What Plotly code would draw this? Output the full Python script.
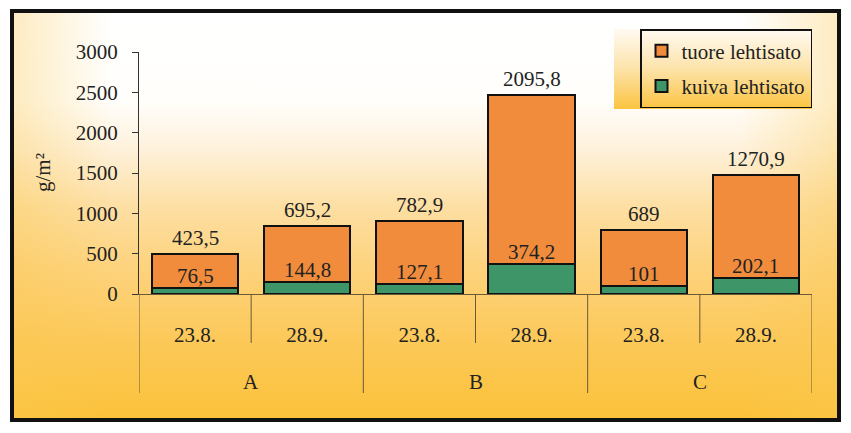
import base64
import plotly.graph_objects as go

# ---- data ----
groups = ["A", "B", "C"]
dates = ["23.8.", "28.9.", "23.8.", "28.9.", "23.8.", "28.9."]
kuiva = [76.5, 144.8, 127.1, 374.2, 101, 202.1]
tuore = [423.5, 695.2, 782.9, 2095.8, 689, 1270.9]
y_ticks = [0, 500, 1000, 1500, 2000, 2500, 3000]

OFF = 8  # page body margin
W, H = 851 - OFF, 433 - OFF
ML, MR, MT, MB = 139 - OFF, 39, 52 - OFF, 139
PW, PH = W - ML - MR, H - MT - MB

def px(x):
    return (x - OFF - ML) / PW

def py(y):
    return (H - MB - (y - OFF)) / PH

def fmt(v):
    s = ("%g" % v)
    return s.replace(".", ",")

FONT = "Liberation Serif"
TXT = "#222222"
xs = list(range(len(dates)))

fig = go.Figure()
fig.add_trace(go.Bar(x=xs, y=kuiva, name="kuiva lehtisato", width=0.77, legendgroup="k",
                     legendrank=2,
                     marker=dict(color="#3E9668", line=dict(color="#111111", width=2)),
                     hoverinfo="skip"))
fig.add_trace(go.Bar(x=xs, y=tuore, name="tuore lehtisato", width=0.77, legendgroup="t",
                     legendrank=1,
                     marker=dict(color="#F08C3C", line=dict(color="#111111", width=2)),
                     hoverinfo="skip"))

annotations = []
for i in xs:
    annotations.append(dict(x=i, y=kuiva[i], xref="x", yref="y", text=fmt(kuiva[i]),
                            showarrow=False, yshift=12, yanchor="middle",
                            font=dict(family=FONT, size=21, color=TXT)))
    annotations.append(dict(x=i, y=kuiva[i] + tuore[i], xref="x", yref="y", text=fmt(tuore[i]),
                            showarrow=False, yshift=16, yanchor="middle",
                            font=dict(family=FONT, size=21, color=TXT)))
for g, gname in enumerate(groups):
    annotations.append(dict(x=2 * g + 0.5, y=py(382), xref="x", yref="paper", text=gname,
                            showarrow=False, yanchor="middle",
                            font=dict(family=FONT, size=21, color=TXT)))
annotations.append(dict(x=px(43), y=py(173), xref="paper", yref="paper", text="g/m²",
                        textangle=-90, showarrow=False, xanchor="center", yanchor="middle",
                        font=dict(family=FONT, size=21, color=TXT)))

shapes = []
LINEC = "#6B5A3A"
for k in range(len(groups) + 1):
    shapes.append(dict(type="line", xref="x", yref="paper", x0=2 * k - 0.5, x1=2 * k - 0.5,
                       y0=0, y1=py(393), line=dict(color=LINEC, width=1)))
for k in range(len(groups)):
    shapes.append(dict(type="line", xref="x", yref="paper", x0=2 * k + 0.5, x1=2 * k + 0.5,
                       y0=0, y1=py(343), line=dict(color=LINEC, width=1)))
# outer frame
shapes.append(dict(type="rect", xref="paper", yref="paper", x0=px(12), x1=px(839),
                   y0=py(420), y1=py(11), line=dict(color="#111111", width=4),
                   fillcolor="rgba(0,0,0,0)"))

bg_svg = """<svg xmlns='http://www.w3.org/2000/svg' width='830' height='410' preserveAspectRatio='none'>
<defs>
<linearGradient id='g' x1='0' y1='0' x2='0' y2='1'>
<stop offset='0' stop-color='#FFFFFF'/>
<stop offset='0.22' stop-color='#FFFEFB'/>
<stop offset='0.34' stop-color='#FEF1DA'/>
<stop offset='0.47' stop-color='#FDE0A6'/>
<stop offset='0.62' stop-color='#FDD37E'/>
<stop offset='0.8' stop-color='#FCC95A'/>
<stop offset='1' stop-color='#FBC23A'/>
</linearGradient>
<linearGradient id='h' x1='0' y1='0' x2='1' y2='0'>
<stop offset='0' stop-color='#FBC850' stop-opacity='0.35'/>
<stop offset='0.12' stop-color='#FBC850' stop-opacity='0'/>
<stop offset='0.88' stop-color='#FBC850' stop-opacity='0'/>
<stop offset='1' stop-color='#FBC850' stop-opacity='0.35'/>
</linearGradient>
</defs>
<rect width='830' height='410' fill='url(#g)'/>
<rect width='830' height='410' fill='url(#h)'/>
</svg>"""
leg_svg = """<svg xmlns='http://www.w3.org/2000/svg' width='200' height='80' preserveAspectRatio='none'>
<defs><linearGradient id='g' x1='0' y1='0' x2='0' y2='1'>
<stop offset='0' stop-color='#FFFAF2'/>
<stop offset='0.5' stop-color='#FDE3AA'/>
<stop offset='1' stop-color='#FBC440'/>
</linearGradient></defs>
<rect width='200' height='80' fill='url(#g)'/>
</svg>"""

def uri(svg):
    return "data:image/svg+xml;base64," + base64.b64encode(svg.encode()).decode()

images = [
    dict(source=uri(bg_svg), xref="paper", yref="paper", x=px(12), y=py(11),
         sizex=px(839) - px(12), sizey=py(11) - py(420), xanchor="left", yanchor="top",
         sizing="stretch", layer="below"),
    dict(source=uri(leg_svg), xref="paper", yref="paper", x=px(614), y=py(29),
         sizex=px(812) - px(614), sizey=py(29) - py(109), xanchor="left", yanchor="top",
         sizing="stretch", layer="below"),
]

fig.update_layout(
    width=W, height=H,
    margin=dict(l=ML, r=MR, t=MT, b=MB),
    barmode="stack",
    paper_bgcolor="white",
    plot_bgcolor="rgba(0,0,0,0)",
    font=dict(family=FONT, size=21, color=TXT),
    showlegend=True,
    legend=dict(x=1.0, xanchor="right", y=py(29), yanchor="top",
                bgcolor="rgba(0,0,0,0)", bordercolor="#111111", borderwidth=1.5,
                traceorder="grouped", font=dict(family=FONT, size=21, color=TXT),
                itemwidth=30, tracegroupgap=5),
    xaxis=dict(range=[-0.5, 5.5], tickmode="array", tickvals=xs, ticktext=dates,
               showline=True, linecolor=LINEC, linewidth=1, ticks="", showgrid=False,
               zeroline=False, ticklabelstandoff=22,
               tickfont=dict(family=FONT, size=21, color=TXT)),
    yaxis=dict(range=[0, 3000], tickmode="array", tickvals=y_ticks,
               showline=True, linecolor="#333333", linewidth=1, ticks="outside",
               ticklen=6, tickcolor="#333333", showgrid=False, zeroline=False,
               ticklabelstandoff=10,
               tickfont=dict(family=FONT, size=21, color=TXT)),
    annotations=annotations,
    shapes=shapes,
    images=images,
)

fig.write_html("out.html")
